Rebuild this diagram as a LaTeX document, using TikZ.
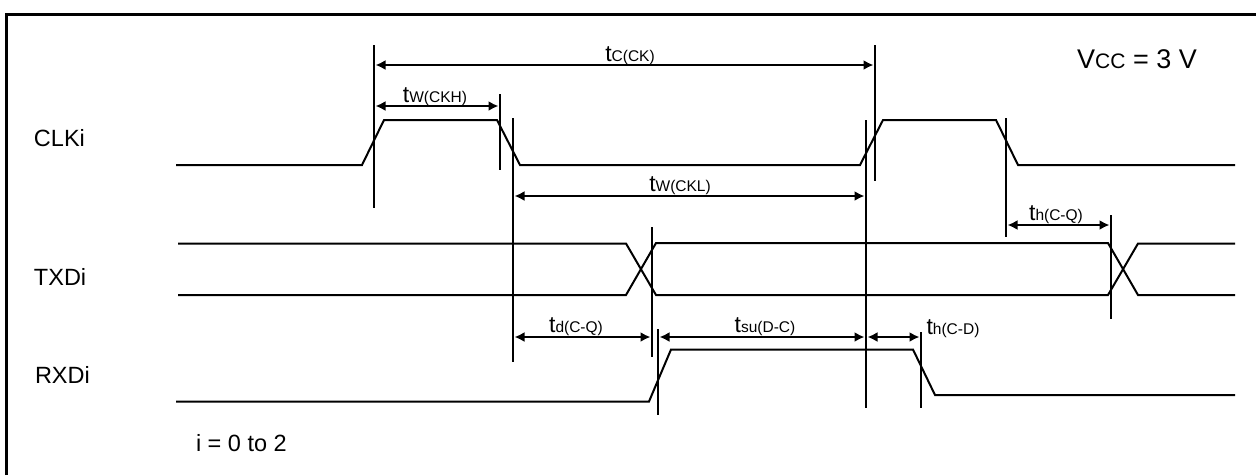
\documentclass[tikz,border=0pt]{standalone}
\usepackage{fontspec}
\setmainfont{Liberation Sans}
\usetikzlibrary{arrows.meta}
\newcommand{\bigsize}{\fontsize{23}{23}\selectfont}
\newcommand{\subsize}{\fontsize{15.5}{15.5}\selectfont}
\newcommand{\tname}[1]{{\bigsize t}{\subsize #1}}
\begin{document}
\begin{tikzpicture}[x=1pt, y=-1pt, line join=miter,
              every node/.style = {inner sep=0pt, outer sep=0pt, anchor=base},
              signal/.style = {draw, line width=2pt},
              edgemark/.style = {draw, line width=2pt},
              span/.style = {draw, line width=2pt, {Latex[length=10pt,width=10pt]}-{Latex[length=10pt,width=10pt]}, shorten >=1.5pt, shorten <=1.5pt},
              pin/.style = {anchor=base west, font=\fontsize{23.5}{23.5}\selectfont}]
  \useasboundingbox (0,0) rectangle (1256,475);
  \fill[white] (0,0) rectangle (1256,475);
  % frame, cut off at the right and at the bottom
  \coordinate (frameA) at (6.5,475);
  \coordinate (frameB) at (6.5,14.5);
  \coordinate (frameC) at (1256,14.5);
  \draw[line width=3pt] (frameA) -- (frameB) -- (frameC);
  % signal names
  \node[pin] (clkname) at (34,146) {CLKi};
  \node[pin] (txdname) at (34,285) {TXDi};
  \node[pin] (rxdname) at (35,383) {RXDi};
  \node[pin] (rangenote) at (196,451) {i = 0 to 2};
  \node (vccnote) at (1137,68) {{\fontsize{27}{27}\selectfont V}{\fontsize{21}{21}\selectfont CC}{\fontsize{27}{27}\selectfont\ = 3 V}};
  % waveforms
  \draw[signal] (176,165) -- (362,165) -- (384,120) -- (497,120) -- (520,165) -- (860,165)
                -- (883,120) -- (996,120) -- (1018,165) -- (1235,165);
  \draw[signal] (178,243.5) -- (626,243.5) -- (656,295) -- (1108,295) -- (1138,243.5) -- (1235,243.5);
  \draw[signal] (178,295) -- (626,295) -- (656,243) -- (1108,243) -- (1138,295) -- (1235,295);
  \draw[line width=1pt] (656,242) -- (1108,242);
  \draw[signal] (176,401.5) -- (649,401.5) -- (671,349.5) -- (913,349.5) -- (935,395) -- (1235,395);
  % edge marks
  \coordinate (ckrA) at (374,45);    \coordinate (ckrAend) at (374,208);
  \coordinate (ckhB) at (500,94);    \coordinate (ckhBend) at (500,170);
  \coordinate (cklA) at (513,118);   \coordinate (cklAend) at (513,362);
  \coordinate (ckrB) at (875,45);    \coordinate (ckrBend) at (875,181);
  \coordinate (cklB) at (866,120);   \coordinate (cklBend) at (866,408);
  \coordinate (hcqA) at (1006,118);  \coordinate (hcqAend) at (1006,237);
  \coordinate (hcqB) at (1111,215);  \coordinate (hcqBend) at (1111,319);
  \coordinate (dcqB) at (652,227);   \coordinate (dcqBend) at (652,357);
  \coordinate (sudA) at (658,329);   \coordinate (sudAend) at (658,415);
  \coordinate (hcdB) at (921,332);   \coordinate (hcdBend) at (921,408);
  \draw[edgemark] (ckrA) -- (ckrAend);
  \draw[edgemark] (ckhB) -- (ckhBend);
  \draw[edgemark] (cklA) -- (cklAend);
  \draw[edgemark] (ckrB) -- (ckrBend);
  \draw[edgemark] (cklB) -- (cklBend);
  \draw[edgemark] (hcqA) -- (hcqAend);
  \draw[edgemark] (hcqB) -- (hcqBend);
  \draw[edgemark] (dcqB) -- (dcqBend);
  \draw[edgemark] (sudA) -- (sudAend);
  \draw[edgemark] (hcdB) -- (hcdBend);
  % spans
  \draw[span] (ckrA |- 0,65) -- (ckrB |- 0,65);
  \draw[span] (ckrA |- 0,106) -- (ckhB |- 0,106);
  \draw[span] (cklA |- 0,196) -- (cklB |- 0,196);
  \draw[span] (hcqA |- 0,225) -- (hcqB |- 0,225);
  \draw[span] (cklA |- 0,337) -- (dcqB |- 0,337);
  \draw[span] (sudA |- 0,337) -- (cklB |- 0,337);
  \draw[span] (cklB |- 0,337) -- (hcdB |- 0,337);
  % span labels
  \node (tckname) at (630,61) {\tname{C(CK)}};
  \node (tckhname) at (435,102) {\tname{W(CKH)}};
  \node (tcklname) at (680,191) {\tname{W(CKL)}};
  \node (thcqname) at (1056,220) {\tname{h(C-Q)}};
  \node (tdcqname) at (576,332) {\tname{d(C-Q)}};
  \node (tsudname) at (765,332) {\tname{su(D-C)}};
  \node (thcdname) at (953,334) {\tname{h(C-D)}};
\end{tikzpicture}
\end{document}
